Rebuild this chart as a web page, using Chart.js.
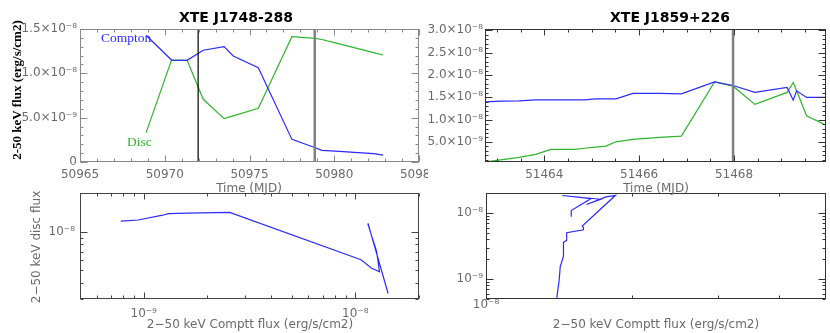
<!DOCTYPE html>
<html>
<head>
<meta charset="utf-8">
<script src="https://cdn.jsdelivr.net/npm/chart.js@4.4.1/dist/chart.umd.min.js"></script>
<style>
html,body{margin:0;padding:0;background:#fff;}
#wrap{position:relative;width:830px;height:333px;overflow:hidden;background:#fff;}
canvas{position:absolute;}
.t{position:absolute;white-space:nowrap;line-height:1;z-index:5;font-family:"DejaVu Sans",sans-serif;}
.c{transform:translate(-50%,-50%);}
.r{transform:translate(-50%,-50%) rotate(-90deg);}
.l{transform:translate(0,-50%);}
.title{font-weight:bold;font-size:14px;color:#000;}
.ax{font-size:12px;color:#6a6a6a;}
.lbl{font-family:"Liberation Serif",serif;font-size:13.5px;}
</style>
</head>
<body>
<div id="wrap">
  <canvas id="tl" width="428" height="195" style="left:0;top:0"></canvas>
  <canvas id="tr" width="402" height="195" style="left:428px;top:0"></canvas>
  <canvas id="bl" width="428" height="143" style="left:0;top:190px"></canvas>
  <canvas id="br" width="402" height="143" style="left:428px;top:190px"></canvas>

  <div class="t c title" style="left:236px;top:17px">XTE J1748-288</div>
  <div class="t c title" style="left:670px;top:17px">XTE J1859+226</div>
  <div class="t r" style="left:15.5px;top:90px;font-family:'Liberation Serif',serif;font-weight:bold;font-size:13px;color:#000">2-50 keV flux (erg/s/cm2)</div>
  <div class="t c ax" style="left:249px;top:188px">Time (MJD)</div>
  <div class="t c ax" style="left:656px;top:188px">Time (MJD)</div>
  <div class="t c ax" style="left:250px;top:324px">2−50 keV Comptt flux (erg/s/cm2)</div>
  <div class="t c ax" style="left:656px;top:324px">2−50 keV Comptt flux (erg/s/cm2)</div>
  <div class="t r ax" style="left:36px;top:247px">2−50 keV disc flux</div>
  <div class="t l lbl" style="left:101px;top:37.5px;color:#2b2bff">Compton</div>
  <div class="t l lbl" style="left:127px;top:142px;color:#2fb52f">Disc</div>
</div>
<script>
// ---------- data: XTE J1748-288 ----------
const j1748Time    = [50968.90, 50970.40, 50971.32, 50972.27, 50973.50, 50974.04, 50975.52, 50977.50, 50978.88, 50979.27, 50980.06, 50982.33, 50982.88];
const j1748Compton = [14.29e-9, 11.50e-9, 11.47e-9, 12.60e-9, 13.01e-9, 11.95e-9, 10.64e-9, 2.55e-9, 1.61e-9, 1.31e-9, 1.23e-9, 0.94e-9, 0.78e-9];
const j1748Disc    = [3.31e-9, 11.50e-9, 11.47e-9, 7.07e-9, 4.89e-9, 5.20e-9, 6.05e-9, 14.14e-9, 13.95e-9, 13.82e-9, 13.44e-9, 12.34e-9, 12.07e-9];
const j1748Markers = [50971.97, 50978.85];

// ---------- data: XTE J1859+226 ----------
const j1859Time    = [51462.77, 51463.08, 51463.47, 51463.82, 51464.14, 51464.38, 51464.63, 51464.85, 51465.02, 51465.09, 51465.30, 51465.51, 51465.87, 51465.94, 51466.43, 51466.89, 51467.59, 51467.98, 51468.44, 51469.12, 51469.25, 51469.32, 51469.53, 51469.94];
const j1859Compton = [13.98e-9, 14.14e-9, 14.21e-9, 14.43e-9, 14.43e-9, 14.43e-9, 14.43e-9, 14.43e-9, 14.60e-9, 14.65e-9, 14.65e-9, 14.65e-9, 15.86e-9, 15.86e-9, 15.86e-9, 15.77e-9, 18.46e-9, 17.65e-9, 16.09e-9, 17.20e-9, 14.36e-9, 16.44e-9, 14.97e-9, 14.97e-9];
const j1859Disc    = [0.52e-9, 0.97e-9, 1.54e-9, 2.21e-9, 3.33e-9, 3.33e-9, 3.33e-9, 3.58e-9, 3.78e-9, 3.85e-9, 4.07e-9, 5.03e-9, 5.55e-9, 5.64e-9, 6.02e-9, 6.31e-9, 18.46e-9, 17.49e-9, 13.40e-9, 16.09e-9, 18.32e-9, 16.45e-9, 10.85e-9, 8.77e-9];
const j1859Markers = [51467.98];

// ---------- tick labels ----------
const j1748TimeTicks = [50965, 50970, 50975, 50980, 50985];
const j1748FluxTicks = [0, 5e-9, 1e-8, 1.5e-8];
const j1859TimeTicks = [51464, 51466, 51468];
const j1859FluxTicks = [5e-9, 1e-8, 1.5e-8, 2e-8, 2.5e-8, 3e-8];
const j1748LogXTicks = [1e-9, 1e-8];
const j1748LogYTicks = [1e-8];
const j1859LogXTicks = [1e-8];
const j1859LogYTicks = [1e-9, 1e-8];

const BLUE = '#2b2bff', GREEN = '#2fb52f';
const TICKCOL = '#6a6a6a';
Chart.defaults.font.family = '"DejaVu Sans", sans-serif';

const SUP = {'-':'⁻','0':'⁰','1':'¹','2':'²','3':'³','4':'⁴','5':'⁵','6':'⁶','7':'⁷','8':'⁸','9':'⁹'};
const sup = s => String(s).split('').map(c => SUP[c] || c).join('');
function sci(v){
  if (v === 0) return '0';
  const e = Math.floor(Math.log10(v) + 1e-9);
  const m = v / Math.pow(10, e);
  return m.toFixed(1) + '×10' + sup(e);
}
const logLbl = v => '10' + sup(Math.round(Math.log10(v)));
const plain = v => String(Math.round(v));

function linVals(min, max, step){
  const out = [];
  for (let k = Math.ceil(min/step - 1e-6); k*step <= max + step*1e-6; k++) out.push(k*step);
  return out;
}
function logVals(min, max){
  const out = [];
  for (let d = Math.floor(Math.log10(min)) - 1; d <= Math.ceil(Math.log10(max)); d++)
    for (let m = 1; m <= 9; m++){ const v = m*Math.pow(10,d); if (v >= min*0.999 && v <= max*1.001) out.push(v); }
  return out;
}

const frame = {
  id: 'frame',
  afterDatasetsDraw(chart, args, o){
    const {ctx, chartArea:a, scales:{x, y}} = chart;
    ctx.save();
    (o.markers || []).forEach(m => {
      const px = x.getPixelForValue(m.value);
      ctx.strokeStyle = m.color; ctx.lineWidth = m.width;
      ctx.beginPath(); ctx.moveTo(px, a.top); ctx.lineTo(px, a.bottom); ctx.stroke();
    });
    ctx.strokeStyle = o.color; ctx.lineWidth = 1;
    const L = Math.round(a.left) + 0.5, R = Math.round(a.right) - 0.5, T = Math.round(a.top) + 0.5, B = Math.round(a.bottom) - 0.5;
    ctx.strokeRect(L, T, R - L, B - T);
    ctx.beginPath();
    const xt = (vals, len) => vals.forEach(v => {
      const p = Math.round(x.getPixelForValue(v)) + 0.5;
      if (p < L - 1 || p > R + 1) return;
      ctx.moveTo(p, B); ctx.lineTo(p, B - len);
      ctx.moveTo(p, T); ctx.lineTo(p, T + len);
    });
    const yt = (vals, len) => vals.forEach(v => {
      const p = Math.round(y.getPixelForValue(v)) + 0.5;
      if (p < T - 1 || p > B + 1) return;
      ctx.moveTo(L, p); ctx.lineTo(L + len, p);
      ctx.moveTo(R, p); ctx.lineTo(R - len, p);
    });
    xt(o.xMinor, 3); xt(o.xMajor, 6);
    yt(o.yMinor, 3); yt(o.yMajor, 7);
    ctx.stroke();
    ctx.restore();
  }
};

function axis(kind, type, min, max, ticks, fmt, pad, size){
  const s = {
    type, min, max,
    position: kind === 'x' ? 'bottom' : 'left',
    grid: {display:false, drawTicks:false},
    border: {display:false},
    afterBuildTicks: sc => { sc.ticks = ticks.map(v => ({value:v})); },
    ticks: {autoSkip:false, maxRotation:0, minRotation:0, padding:pad, color:TICKCOL,
            font:{size:12, family:'"DejaVu Sans", sans-serif'}, callback: v => fmt(v)},
  };
  if (kind === 'x') s.afterFit = sc => { sc.height = size; sc.paddingLeft = 0; sc.paddingRight = 0; };
  else s.afterFit = sc => { sc.width = size; sc.paddingTop = 0; sc.paddingBottom = 0; };
  return s;
}

function makeChart(id, datasets, xs, ys, padding, frameOpts){
  return new Chart(document.getElementById(id), {
    type: 'scatter',
    data: {datasets: datasets.map(d => Object.assign({showLine:true, pointRadius:0, borderWidth:1.2, fill:false, tension:0}, d))},
    options: {
      responsive:false, animation:false, devicePixelRatio:1, events:[],
      layout:{padding},
      plugins:{legend:{display:false}, tooltip:{enabled:false}, frame:frameOpts},
      scales:{x:xs, y:ys}
    },
    plugins:[frame]
  });
}

// Top-left: XTE J1748-288 light curve
makeChart('tl',
  [{data: j1748Time.map((t,i)=>({x:t, y:j1748Compton[i]})), borderColor:BLUE},
   {data: j1748Time.map((t,i)=>({x:t, y:j1748Disc[i]})), borderColor:GREEN}],
  axis('x','linear',50965,50985,j1748TimeTicks,plain,6,33),
  axis('y','linear',0,1.5e-8,j1748FluxTicks,sci,3,80),
  {top:29,right:9,left:0,bottom:0},
  {color:'#888', xMajor:j1748TimeTicks, xMinor:linVals(50965,50985,1), yMajor:j1748FluxTicks, yMinor:linVals(0,1.5e-8,1e-9),
   markers:[{value:j1748Markers[0], color:'#000', width:1.2},{value:j1748Markers[1], color:'#808080', width:2.5}]}
);

// Top-right: XTE J1859+226 light curve
makeChart('tr',
  [{data: j1859Time.map((t,i)=>({x:t, y:j1859Compton[i]})), borderColor:BLUE},
   {data: j1859Time.map((t,i)=>({x:t, y:j1859Disc[i]})), borderColor:GREEN}],
  axis('x','linear',51462.75,51469.94,j1859TimeTicks,plain,6,33),
  axis('y','linear',5e-10,3.03e-8,j1859FluxTicks,sci,2,57),
  {top:29,right:4,left:0,bottom:0},
  {color:'#333', xMajor:j1859TimeTicks, xMinor:linVals(51462.75,51469.94,0.5), yMajor:j1859FluxTicks, yMinor:linVals(5e-10,3.03e-8,1e-9),
   markers:[{value:j1859Markers[0], color:'#808080', width:2.5}]}
);

// Bottom-left: disc vs Comptt flux, XTE J1748-288
makeChart('bl',
  [{data: j1748Compton.map((c,i)=>({x:c, y:j1748Disc[i]})), borderColor:BLUE}],
  axis('x','logarithmic',5e-10,2e-8,j1748LogXTicks,logLbl,8,34),
  axis('y','logarithmic',3e-9,2e-8,j1748LogYTicks,logLbl,5,80),
  {top:3,right:9,left:0,bottom:0},
  {color:'#444', xMajor:j1748LogXTicks, xMinor:logVals(5e-10,2e-8), yMajor:j1748LogYTicks, yMinor:logVals(3e-9,2e-8)}
);

// Bottom-right: disc vs Comptt flux, XTE J1859+226
makeChart('br',
  [{data: j1859Compton.map((c,i)=>({x:c, y:j1859Disc[i]})), borderColor:BLUE}],
  axis('x','logarithmic',1e-8,5e-8,j1859LogXTicks,logLbl,-1,34),
  axis('y','logarithmic',5e-10,2e-8,j1859LogYTicks,logLbl,3,58),
  {top:3,right:4,left:0,bottom:0},
  {color:'#333', xMajor:j1859LogXTicks, xMinor:[2e-8,3e-8,4e-8], yMajor:j1859LogYTicks, yMinor:logVals(5e-10,2e-8)}
);
</script>
</body>
</html>
